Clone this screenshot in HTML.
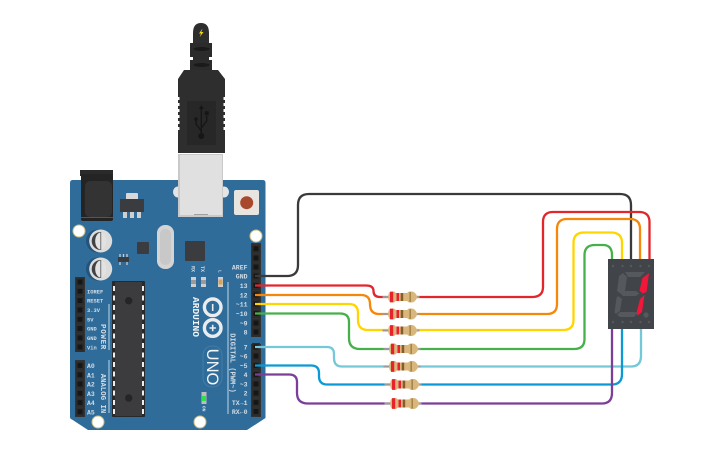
<!DOCTYPE html>
<html><head><meta charset="utf-8"><style>
html,body{margin:0;padding:0;background:#fff}
svg{display:block}
text{font-family:"Liberation Mono",monospace;font-weight:bold;fill:#d3dde6}
.w{fill:none;stroke-width:2.3}
</style></head><body>
<svg width="725" height="453" viewBox="0 0 725 453" xmlns="http://www.w3.org/2000/svg">
<defs>
<g id="pin"><rect x="-4" y="-4" width="8" height="8.600" fill="#2c2c2c"/><rect x="-2.400" y="-2.400" width="4.800" height="4.800" fill="#161616"/></g>
<g id="res">
<path d="M-18.500 0H18.500" stroke="#9a9a9a" stroke-width="2"/>
<path d="M-10 -5.500h3l2 1.500h11l2 -1.500h3q3 0 5.500 5.500q-2.500 5.500 -5.500 5.500h-3l-2 -1.500h-11l-2 1.500h-3q-2.500 0 -3 -5.500q.500 -5.500 3 -5.500z" fill="#d9b77c"/>
<rect x="-11" y="-5.300" width="3.200" height="10.600" fill="#e8222a"/>
<rect x="-4.500" y="-4" width="2.500" height="8" fill="#e8222a"/>
<rect x="-.300" y="-4" width="2.500" height="8" fill="#8a5a2b"/>
<rect x="8.500" y="-5" width="1.300" height="10" fill="#9a7b3c"/>
</g>
</defs>
<rect width="725" height="453" fill="#fff"/>

<!-- board -->
<path d="M72.500 180H263Q265.500 180 265.500 183V418L247 430H88L72 419.500Q70 419 70 417V183Q70 180 72.500 180Z" fill="#2f6c9a"/>

<!-- jack -->
<rect x="80" y="170" width="33" height="6" fill="#2a2a2a"/>
<rect x="81" y="174" width="32" height="47" rx="2" fill="#242424"/>
<rect x="85" y="181" width="27" height="36" rx="5" fill="#333"/>
<rect x="81" y="217" width="32" height="1" fill="#555"/>

<!-- regulator -->
<rect x="126" y="193" width="12" height="7" rx="1" fill="#d8d8d8"/>
<rect x="120" y="199" width="24" height="13" fill="#3a3c3f"/>
<rect x="123" y="212" width="4" height="6" fill="#cfcfcf"/><rect x="130" y="212" width="4" height="6" fill="#cfcfcf"/><rect x="137" y="212" width="4" height="6" fill="#cfcfcf"/>

<!-- holes -->
<circle cx="79" cy="231" r="6" fill="#fff" stroke="#cdbf84" stroke-width="1"/>
<circle cx="256" cy="236" r="6" fill="#fff" stroke="#cdbf84" stroke-width="1"/>
<circle cx="98" cy="422" r="6" fill="#fff" stroke="#cdbf84" stroke-width="1"/>
<circle cx="200" cy="422" r="6" fill="#fff" stroke="#cdbf84" stroke-width="1"/>

<!-- caps -->
<circle cx="97.500" cy="241" r="11.500" fill="#25537a"/>
<circle cx="100.700" cy="241" r="11.500" fill="#dcdcdc"/>
<path d="M100.700 232A9 9 0 0 0 100.700 250Z" fill="#404244"/>
<ellipse cx="100.700" cy="241" rx="5.500" ry="8.500" fill="#e2e2e2"/>
<rect x="100.400" y="232" width=".8" height="18" fill="#555"/>
<circle cx="97.500" cy="269" r="11.500" fill="#25537a"/>
<circle cx="100.700" cy="269" r="11.500" fill="#dcdcdc"/>
<path d="M100.700 260A9 9 0 0 0 100.700 278Z" fill="#404244"/>
<ellipse cx="100.700" cy="269" rx="5.500" ry="8.500" fill="#e2e2e2"/>
<rect x="100.400" y="260" width=".8" height="18" fill="#555"/>

<!-- small parts -->
<rect x="137" y="242" width="12" height="12" rx="1" fill="#3a3c3f"/>
<rect x="118" y="257" width="11" height="5" fill="#3a3c3f"/>
<path d="M120 254v3M123.500 254v3M127 254v3M120 262v3M127 262v3" stroke="#ccc" stroke-width="1.300"/>
<rect x="157" y="225" width="17" height="44" rx="8" fill="#d4d4d4"/>
<rect x="160" y="229" width="11" height="36" rx="5.500" fill="#c8c8c8"/>
<rect x="185" y="241" width="20" height="20" rx="1" fill="#3a3c3f"/>

<!-- main IC -->
<rect x="112" y="281" width="33" height="136" rx="1" fill="#27292b"/>
<rect x="115" y="282" width="27" height="134" fill="#3c3c3e"/>
<g fill="#eee">
<rect x="113" y="286" width="2" height="5"/><rect x="142" y="286" width="2" height="5"/>
<rect x="113" y="295.500" width="2" height="5"/><rect x="142" y="295.500" width="2" height="5"/>
<rect x="113" y="305" width="2" height="5"/><rect x="142" y="305" width="2" height="5"/>
<rect x="113" y="314.500" width="2" height="5"/><rect x="142" y="314.500" width="2" height="5"/>
<rect x="113" y="324" width="2" height="5"/><rect x="142" y="324" width="2" height="5"/>
<rect x="113" y="333.500" width="2" height="5"/><rect x="142" y="333.500" width="2" height="5"/>
<rect x="113" y="343" width="2" height="5"/><rect x="142" y="343" width="2" height="5"/>
<rect x="113" y="352.500" width="2" height="5"/><rect x="142" y="352.500" width="2" height="5"/>
<rect x="113" y="362" width="2" height="5"/><rect x="142" y="362" width="2" height="5"/>
<rect x="113" y="371.500" width="2" height="5"/><rect x="142" y="371.500" width="2" height="5"/>
<rect x="113" y="381" width="2" height="5"/><rect x="142" y="381" width="2" height="5"/>
<rect x="113" y="390.500" width="2" height="5"/><rect x="142" y="390.500" width="2" height="5"/>
<rect x="113" y="400" width="2" height="5"/><rect x="142" y="400" width="2" height="5"/>
<rect x="113" y="409" width="2" height="5"/><rect x="142" y="409" width="2" height="5"/>
</g>
<circle cx="128.700" cy="300.700" r="3.700" fill="#252527"/>
<circle cx="128.700" cy="398" r="3.700" fill="#252527"/>

<!-- left headers -->
<rect x="75" y="277" width="10" height="75" fill="#333"/>
<rect x="75" y="360" width="10" height="57" fill="#333"/>
<g transform="translate(80,0)">
<use href="#pin" y="282"/><use href="#pin" y="291.300"/><use href="#pin" y="300.600"/><use href="#pin" y="310"/><use href="#pin" y="319.300"/><use href="#pin" y="328.600"/><use href="#pin" y="338"/><use href="#pin" y="347"/>
<use href="#pin" y="365.500"/><use href="#pin" y="374.800"/><use href="#pin" y="384"/><use href="#pin" y="393.300"/><use href="#pin" y="402.600"/><use href="#pin" y="411.800"/>
</g>
<g style="font-size:5.400px">
<text x="87" y="293.300">IOREF</text><text x="87" y="302.600">RESET</text><text x="87" y="312">3.3V</text><text x="87" y="321.300">5V</text><text x="87" y="330.600">GND</text><text x="87" y="340">GND</text><text x="87" y="349.300">Vin</text>
</g>
<g style="font-size:6.400px">
<text x="87" y="368">A0</text><text x="87" y="377.300">A1</text><text x="87" y="386.500">A2</text><text x="87" y="395.800">A3</text><text x="87" y="405">A4</text><text x="87" y="414.300">A5</text>
</g>
<path d="M109 304V350M109 360V413" stroke="#a9c3d8" stroke-width="1.200"/>
<text transform="translate(101,337) rotate(90)" text-anchor="middle" style="font-size:7.500px;letter-spacing:.7px">POWER</text>
<text transform="translate(101,393.500) rotate(90)" text-anchor="middle" style="font-size:7.300px">ANALOG IN</text>

<!-- right headers -->
<rect x="251" y="243" width="10" height="94" fill="#333"/>
<rect x="251" y="344" width="10" height="73" fill="#333"/>
<g transform="translate(256,0)">
<use href="#pin" y="248.700"/><use href="#pin" y="258"/><use href="#pin" y="267"/><use href="#pin" y="276"/><use href="#pin" y="285.500"/><use href="#pin" y="295"/><use href="#pin" y="304"/><use href="#pin" y="313.500"/><use href="#pin" y="323"/><use href="#pin" y="332"/>
<use href="#pin" y="347"/><use href="#pin" y="356"/><use href="#pin" y="365.500"/><use href="#pin" y="374.500"/><use href="#pin" y="384"/><use href="#pin" y="393"/><use href="#pin" y="402.500"/><use href="#pin" y="411.500"/>
</g>
<g text-anchor="end" style="font-size:6.500px">
<text x="247.500" y="269.500">AREF</text><text x="247.500" y="278.500">GND</text><text x="247.500" y="288">13</text><text x="247.500" y="297.500">12</text><text x="247.500" y="306.500">~11</text><text x="247.500" y="316">~10</text><text x="247.500" y="325.500">~9</text><text x="247.500" y="334.500">8</text>
<text x="247.500" y="349.500">7</text><text x="247.500" y="358.500">~6</text><text x="247.500" y="368">~5</text><text x="247.500" y="377">4</text><text x="247.500" y="386.500">~3</text><text x="247.500" y="395.500">2</text><text x="247.500" y="405">TX→1</text><text x="247.500" y="414">RX←0</text>
</g>
<path d="M228 282V414" stroke="#a9c3d8" stroke-width="1.200"/>
<text transform="translate(230.500,363) rotate(90)" text-anchor="middle" style="font-size:7.100px">DIGITAL (PWM~)</text>

<!-- RX TX L -->
<text transform="translate(191.500,266) rotate(90)" style="font-size:5px">RX</text>
<text transform="translate(201,266) rotate(90)" style="font-size:5px">TX</text>
<rect x="191" y="277" width="5" height="10" fill="#cfcfcf"/><rect x="191" y="280" width="5" height="4" fill="#9a9a9a"/>
<rect x="201" y="277" width="5" height="10" fill="#cfcfcf"/><rect x="201" y="280" width="5" height="4" fill="#9a9a9a"/>
<text transform="translate(218.500,270) rotate(90)" style="font-size:4.500px">L</text>
<rect x="218" y="277" width="5" height="10" fill="#cfcfcf"/><rect x="218.500" y="279.500" width="4" height="5" fill="#d9a35c"/>

<!-- logo -->
<text transform="translate(193,317) rotate(90)" text-anchor="middle" style="font-size:9.500px;fill:#f2f5f7">ARDUINO</text>
<circle cx="212.700" cy="307.300" r="8.300" fill="none" stroke="#e9edf0" stroke-width="3.400"/>
<circle cx="212.700" cy="328" r="8.300" fill="none" stroke="#e9edf0" stroke-width="3.400"/>
<path d="M212.700 304v7M209.500 328h6.400M212.700 324.800v6.400" stroke="#e9edf0" stroke-width="1.600"/>
<rect x="203" y="346" width="19" height="41" rx="9" fill="none" stroke="#4a80aa" stroke-width=".8"/>
<text transform="translate(207,367) rotate(90)" text-anchor="middle" style="font-family:'Liberation Sans',sans-serif;font-weight:normal;font-size:16.500px;fill:#f2f5f7">UNO</text>

<!-- ON LED -->
<rect x="201.500" y="392" width="5" height="12" fill="#bdbdbd"/>
<rect x="202" y="396" width="4" height="5" fill="#2fe04a"/>
<text transform="translate(202.500,406) rotate(90)" style="font-size:4.500px">ON</text>

<!-- reset -->
<rect x="234" y="190" width="25" height="25" rx="2" fill="#e8e4df"/>
<circle cx="246.700" cy="202.700" r="6.500" fill="#a8482c"/>

<!-- USB -->
<ellipse cx="178" cy="192" rx="5" ry="5.500" fill="#e4e4e4"/>
<ellipse cx="224" cy="192" rx="5" ry="5.500" fill="#e4e4e4"/>
<rect x="178" y="154" width="45" height="63" fill="#c9c9c9"/>
<rect x="180" y="155" width="42" height="60" fill="#e0e0e0"/>
<rect x="194" y="214" width="14" height="1" fill="#a0a0a0"/>
<path d="M193 43V33Q193 23 201 23Q209 23 209 33V43Z" fill="#2e2e2e"/>
<path d="M202.500 28.500L199 33.500H201L199.800 37L203.500 32H201.300Z" fill="#f4d90a"/>
<rect x="190" y="43" width="22" height="14" fill="#2b2b2b"/>
<rect x="193" y="57" width="16" height="4" fill="#2b2b2b"/>
<rect x="190" y="60" width="22" height="11" fill="#2b2b2b"/>
<ellipse cx="201.500" cy="49" rx="8" ry="2" fill="#1a1a1a"/>
<ellipse cx="201.500" cy="65" rx="8" ry="2" fill="#1a1a1a"/>
<path d="M184 70H218L225 79V153H178V79Z" fill="#2e2e2e"/>
<g fill="#fff"><rect x="178" y="97" width="1.500" height="3"/><rect x="178" y="103" width="1.500" height="3"/><rect x="178" y="109" width="1.500" height="3"/><rect x="178" y="115" width="1.500" height="3"/><rect x="178" y="121" width="1.500" height="3"/><rect x="178" y="127" width="1.500" height="3"/>
<rect x="223.500" y="97" width="1.500" height="3"/><rect x="223.500" y="103" width="1.500" height="3"/><rect x="223.500" y="109" width="1.500" height="3"/><rect x="223.500" y="115" width="1.500" height="3"/><rect x="223.500" y="121" width="1.500" height="3"/><rect x="223.500" y="127" width="1.500" height="3"/></g>
<rect x="187" y="101" width="29" height="44" fill="#272727"/>
<g fill="none" stroke="#161616" stroke-width="1.400">
<path d="M201.300 108V136"/><path d="M196 119V124L201.300 131"/><path d="M206.700 116V121L201.300 128"/>
</g>
<g fill="#161616"><path d="M201.300 105L203.800 109H198.800Z"/><circle cx="201.300" cy="136" r="3"/><circle cx="196" cy="119" r="1.800"/><rect x="204.700" y="111.300" width="4" height="4"/></g>

<!-- wires -->
<path class="w" stroke="#3a3a3a" d="M255 276H287Q298 276 298 265V205Q298 194 309 194H620Q631 194 631 205V260"/>
<path class="w" stroke="#e3262c" d="M255 285.500H366Q373.500 285.500 373.500 291Q373.500 297 380 297H392M410 297H532Q543 297 543 287V222Q543 212 553 212H639Q649.500 212 649.500 222V260"/>
<path class="w" stroke="#f5870a" d="M255 295H361Q370 295 370 304Q370 314 379 314H392M410 314H547Q557 314 557 304V229Q557 219 567 219H630Q640 219 640 229V260"/>
<path class="w" stroke="#ffd500" d="M255 304H349Q358 304 358 313V320Q358 330 368 330H392M410 330H563Q573.500 330 573.500 320V243Q573.500 232.500 584 232.500H611Q622 232.500 622 243V260"/>
<path class="w" stroke="#46b04a" d="M255 313.500H340Q349 313.500 349 322V338Q349 349 360 349H392M410 349H574Q584.500 349 584.500 339V255Q584.500 245 595 245H603Q612 245 612 255V260"/>
<path class="w" stroke="#74c8d8" d="M255 347H327Q334 347 334 354V358Q334 366.500 342 366.500H392M410 366.500H631Q641 366.500 641 356V328"/>
<path class="w" stroke="#0b9ad6" d="M255 365.500H311Q319 365.500 319 373V376Q319 384.500 327 384.500H392M410 384.500H612Q622 384.500 622 374V328"/>
<path class="w" stroke="#7b3f98" d="M255 374.500H289Q297 374.500 297 382V393Q297 403.500 308 403.500H392M410 403.500H602Q612 403.500 612 393V328"/>

<!-- resistors -->
<use href="#res" x="401" y="297"/>
<use href="#res" x="401" y="314"/>
<use href="#res" x="401" y="330.500"/>
<use href="#res" x="402" y="349"/>
<use href="#res" x="402" y="366.500"/>
<use href="#res" x="403" y="384.500"/>
<use href="#res" x="403" y="403.500"/>

<!-- 7-seg -->
<rect x="608" y="259" width="46" height="70" fill="#41454a"/>
<g fill="#55585c">
<circle cx="613" cy="266" r="1.200"/><circle cx="622.500" cy="266" r="1.200"/><circle cx="631" cy="266" r="1.200"/><circle cx="640.500" cy="266" r="1.200"/><circle cx="649" cy="266" r="1.200"/>
<circle cx="613" cy="322" r="1.200"/><circle cx="622.500" cy="322" r="1.200"/><circle cx="631" cy="322" r="1.200"/><circle cx="640.500" cy="322" r="1.200"/><circle cx="649" cy="322" r="1.200"/>
<path d="M625 272H645L640 277H628Z"/>
<path d="M623 273L627 277L625 291L621 294L617 291L619 276Z"/>
<path d="M620.500 293.500L624 291H636L639.500 293.500L636 296H623Z"/>
<path d="M618 296L622 299L620 311L616 314L614.500 312.500L616.500 298Z"/>
<path d="M617 315L620 312H634L638 312.500L634 317H620Z"/>
</g>
<path d="M649 273L646.500 292L642.500 293.500L639.500 290.500L642.500 278Z" fill="#f2163a"/>
<path d="M644.500 295L642 312L637.500 315.500L636.500 313L640 299Z" fill="#f2163a"/>
<circle cx="646" cy="315" r="2.600" fill="#55585c"/>
</svg>
</body></html>
